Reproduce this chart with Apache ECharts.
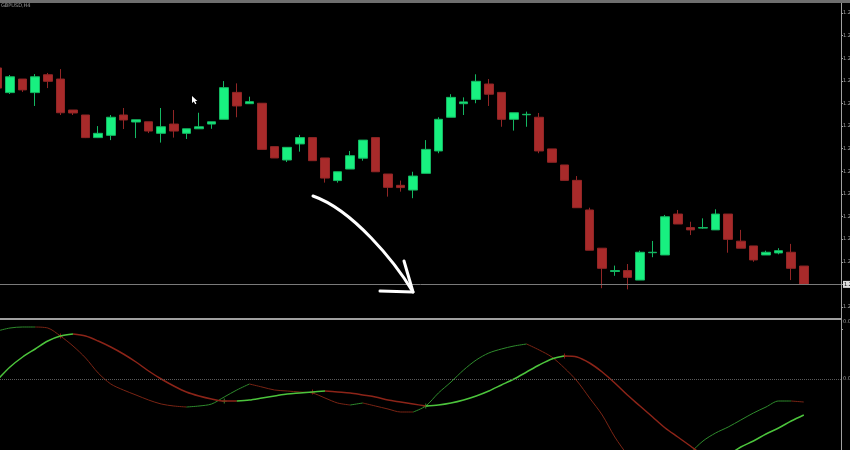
<!DOCTYPE html>
<html>
<head>
<meta charset="utf-8">
<script src="https://cdn.jsdelivr.net/npm/echarts@6/dist/echarts.min.js"></script>
<style>
  html, body { margin: 0; padding: 0; background: #000; }
  #chart { width: 850px; height: 450px; }
</style>
</head>
<body>
<div id="chart"></div>
<script>
// candles, oldest first
const opens = [1.23057,1.22948,1.23008,1.22948,1.23027,1.23008,1.22871,1.22849,1.22749,1.22759,
  1.22849,1.22818,1.22819,1.22768,1.22809,1.22768,1.22788,1.22809,1.22830,1.22949,
  1.22899,1.22901,1.22709,1.22650,1.22721,1.22749,1.22659,1.22559,1.22610,1.22658,
  1.22749,1.22588,1.22538,1.22517,1.22591,1.22690,1.22839,1.22899,1.22918,1.22986,
  1.22949,1.22830,1.22850,1.22839,1.22699,1.22628,1.22560,1.22429,1.22260,1.22157,
  1.22161,1.22119,1.22240,1.22230,1.22411,1.22351,1.22349,1.22341,1.22411,1.22291,
  1.22270,1.22230,1.22239,1.22242,1.22181];
const closes = [1.22968,1.23018,1.22960,1.23018,1.22998,1.22859,1.22858,1.22749,1.22768,1.22839,
  1.22827,1.22828,1.22778,1.22797,1.22778,1.22788,1.22797,1.22819,1.22970,1.22889,
  1.22908,1.22697,1.22659,1.22706,1.22749,1.22647,1.22570,1.22598,1.22669,1.22738,
  1.22598,1.22529,1.22528,1.22579,1.22697,1.22830,1.22927,1.22907,1.22998,1.22941,
  1.22830,1.22859,1.22852,1.22690,1.22640,1.22560,1.22439,1.22251,1.22171,1.22161,
  1.22131,1.22242,1.22242,1.22399,1.22367,1.22341,1.22351,1.22411,1.22299,1.22260,
  1.22208,1.22242,1.22249,1.22171,1.22100];
const lows = [1.22964,1.22942,1.22951,1.22889,1.22968,1.22849,1.22849,1.22747,1.22747,1.22738,
  1.22787,1.22747,1.22769,1.22727,1.22749,1.22743,1.22788,1.22788,1.22830,1.22839,
  1.22899,1.22697,1.22659,1.22641,1.22687,1.22647,1.22550,1.22550,1.22610,1.22647,
  1.22598,1.22488,1.22510,1.22481,1.22591,1.22680,1.22839,1.22849,1.22901,1.22889,
  1.22797,1.22780,1.22797,1.22680,1.22640,1.22560,1.22439,1.22251,1.22083,1.22138,
  1.22078,1.22119,1.22220,1.22230,1.22367,1.22318,1.22346,1.22341,1.22240,1.22260,
  1.22200,1.22230,1.22233,1.22119,1.22100];
const highs = [1.23062,1.23026,1.23008,1.23030,1.23035,1.23052,1.22871,1.22849,1.22800,1.22849,
  1.22880,1.22828,1.22819,1.22880,1.22871,1.22788,1.22859,1.22819,1.22999,1.22989,
  1.22930,1.22901,1.22709,1.22706,1.22761,1.22749,1.22659,1.22598,1.22690,1.22738,
  1.22749,1.22588,1.22559,1.22598,1.22738,1.22839,1.22941,1.22927,1.23029,1.23008,
  1.22949,1.22859,1.22864,1.22858,1.22699,1.22628,1.22579,1.22439,1.22260,1.22183,
  1.22190,1.22249,1.22292,1.22407,1.22429,1.22377,1.22392,1.22432,1.22411,1.22341,
  1.22270,1.22249,1.22260,1.22279,1.22181];

// oscillator pane
const fastLine = [0.0048,0.0051,0.0052,0.0052,0.0051,0.0043,0.0033,0.0021,0.0006,-0.0005,
  -0.0011,-0.0016,-0.0021,-0.0025,-0.0027,-0.0028,-0.0027,-0.0025,-0.0018,-0.0011,
  -0.0005,-0.0008,-0.0011,-0.0012,-0.0013,-0.0014,-0.0019,-0.0024,-0.0026,-0.0024,
  -0.0027,-0.0030,-0.0033,-0.0033,-0.0027,-0.0014,-0.0003,0.0009,0.0019,0.0026,
  0.0030,0.0033,0.0035,0.0029,0.0022,0.0011,-0.0002,-0.0019,-0.0036,-0.0058,
  -0.0076,-0.0093,-0.0103,-0.0100,-0.0088,-0.0074,-0.0062,-0.0054,-0.0048,-0.0041,
  -0.0034,-0.0028,-0.0022,-0.0022,-0.0023];
const slowLine = [-0.0001,0.0012,0.0022,0.0030,0.0038,0.0043,0.0045,0.0043,0.0038,0.0032,
  0.0025,0.0017,0.0008,0.0000,-0.0007,-0.0013,-0.0017,-0.0020,-0.0022,-0.0022,
  -0.0021,-0.0019,-0.0017,-0.0015,-0.0014,-0.0013,-0.0012,-0.0013,-0.0014,-0.0016,
  -0.0018,-0.0021,-0.0023,-0.0025,-0.0027,-0.0026,-0.0024,-0.0021,-0.0017,-0.0012,
  -0.0006,0.0000,0.0007,0.0014,0.0020,0.0023,0.0022,0.0016,0.0007,-0.0004,
  -0.0016,-0.0027,-0.0038,-0.0049,-0.0058,-0.0067,-0.0076,-0.0082,-0.0076,-0.0068,
  -0.0062,-0.0055,-0.0049,-0.0042,-0.0036];
const crossUp = [18, 34];
const crossDown = [5, 25, 45];

const lastClose = closes[closes.length - 1];
const xMin = 0.2063;
const xMax = 66.952;

const candleData = opens.map(function (o, i) {
  return [i, o, closes[i], lows[i], highs[i]];
});

// split a line into runs that go up or down, one series per run
function runSeries(values, upColor, downColor, width) {
  const out = [];
  let start = 0;
  let dir = values[1] >= values[0];
  for (let i = 1; i < values.length; i++) {
    let d = values[i] > values[i - 1] ? true : (values[i] < values[i - 1] ? false : dir);
    if (d !== dir) {
      out.push({ from: start, to: i - 1, up: dir });
      start = i - 1;
      dir = d;
    }
  }
  out.push({ from: start, to: values.length - 1, up: dir });
  return out.map(function (r) {
    const pts = [];
    for (let i = r.from; i <= r.to; i++) pts.push([i, values[i]]);
    return {
      type: 'line',
      xAxisIndex: 1,
      yAxisIndex: 1,
      data: pts,
      symbol: 'none',
      smooth: 0.3,
      silent: true,
      lineStyle: { color: r.up ? upColor : downColor, width: width }
    };
  });
}

const crossSymbol = 'path://M-0.15,-1H0.15V-0.15H1V0.15H0.15V1H-0.15V0.15H-1V-0.15H-0.15Z';

const chart = echarts.init(document.getElementById('chart'));

const series = [
  {
    type: 'candlestick',
    xAxisIndex: 0,
    yAxisIndex: 0,
    data: candleData,
    encode: { x: 0, y: [1, 2, 3, 4] },
    barWidth: 9,
    silent: true,
    itemStyle: {
      color: '#18f080',
      color0: '#a82a2a',
      borderColor: '#14b862',
      borderColor0: '#922626',
      borderWidth: 1
    },
    markLine: {
      silent: true,
      symbol: 'none',
      precision: 5,
      lineStyle: { color: '#7a7a7a', width: 1, type: 'solid' },
      label: {
        show: true,
        position: 'end',
        distance: 2,
        formatter: function (p) { return Number(p.value).toFixed(4); },
        color: '#000',
        backgroundColor: '#dcdcdc',
        fontSize: 5,
        padding: [1, 1],
        fontFamily: 'DejaVu Sans'
      },
      data: [{ yAxis: lastClose }]
    }
  },
  {
    type: 'line',
    xAxisIndex: 1,
    yAxisIndex: 1,
    data: [],
    markLine: {
      silent: true,
      symbol: 'none',
      label: { show: false },
      lineStyle: { color: '#5a5a5a', width: 1, type: 'dotted' },
      data: [{ yAxis: 0 }]
    }
  }
].concat(
  runSeries(fastLine, '#2e8a2c', '#7a2414', 1),
  runSeries(slowLine, '#4cc43c', '#8c2418', 1.5),
  [
    {
      type: 'scatter',
      xAxisIndex: 1,
      yAxisIndex: 1,
      symbol: crossSymbol,
      symbolSize: 5,
      silent: true,
      itemStyle: { color: '#5ddc4a' },
      data: crossUp.map(function (i) { return [i, slowLine[i]]; })
    },
    {
      type: 'scatter',
      xAxisIndex: 1,
      yAxisIndex: 1,
      symbol: crossSymbol,
      symbolSize: 5,
      silent: true,
      itemStyle: { color: '#e02020' },
      data: crossDown.map(function (i) { return [i, slowLine[i]]; })
    }
  ]
);

const axisText = { color: '#a0a0a0', fontSize: 5, fontFamily: 'DejaVu Sans', margin: 2 };

const option = {
  backgroundColor: '#000',
  animation: false,
  grid: [
    { left: 0, right: 9, top: 3, bottom: 120.4, outerBoundsMode: 'none', containLabel: false },
    { left: 0, right: 9, top: 319, bottom: -43, outerBoundsMode: 'none', containLabel: false }
  ],
  xAxis: [
    { type: 'value', gridIndex: 0, min: xMin, max: xMax, show: false },
    { type: 'value', gridIndex: 1, min: xMin, max: xMax, show: false }
  ],
  yAxis: [
    {
      type: 'value',
      gridIndex: 0,
      position: 'right',
      min: 1.219,
      max: 1.233443,
      interval: 0.001,
      splitLine: { show: false },
      axisLine: { show: true, lineStyle: { color: '#a0a0a0' } },
      axisTick: { show: true, length: 2, lineStyle: { color: '#a0a0a0' } },
      axisLabel: Object.assign({}, axisText, {
        showMaxLabel: false,
        formatter: function (v) {
          if (v < 1.21995 || Math.abs(v - lastClose) < 1e-6) return '';
          return v.toFixed(4);
        }
      })
    },
    {
      type: 'value',
      gridIndex: 1,
      position: 'right',
      min: -0.0114,
      max: 0.0060,
      interval: 0.0057,
      splitLine: { show: false },
      axisLine: { show: true, lineStyle: { color: '#a0a0a0' } },
      axisTick: { show: false },
      axisLabel: Object.assign({}, axisText, {
        showMaxLabel: false,
        showMinLabel: false,
        formatter: function (v) {
          if (Math.abs(v) < 1e-9) return '0.0000';
          if (Math.abs(v - 0.0057) < 1e-9) return '0.0057';
          return '';
        }
      })
    }
  ],
  graphic: [
    { type: 'rect', shape: { x: 0, y: 0, width: 850, height: 3 }, style: { fill: '#6e6e6e' }, z: 100 },
    { type: 'text', left: 1, top: 3, style: { text: 'GBPUSD,H4', fill: '#9a9a9a', fontSize: 5, fontFamily: 'DejaVu Sans' }, z: 100 },
    { type: 'line', shape: { x1: 0, y1: 319, x2: 841, y2: 319 }, style: { stroke: '#a0a0a0', lineWidth: 2 }, z: 100 },
    {
      type: 'bezierCurve',
      shape: { x1: 313, y1: 196, cpx1: 353, cpy1: 210, cpx2: 395, cpy2: 262, x2: 413, y2: 292 },
      style: { stroke: '#ffffff', lineWidth: 3, fill: null, lineCap: 'round' },
      z: 100
    },
    {
      type: 'polyline',
      shape: { points: [[404, 261], [413, 292], [380, 291]] },
      style: { stroke: '#ffffff', lineWidth: 3, fill: null, lineCap: 'round', lineJoin: 'round' },
      z: 100
    },
    {
      type: 'polygon',
      shape: { points: [[192, 96], [192, 103], [193.8, 101.6], [195.2, 104.2], [196.4, 103.6], [195.1, 101], [197.4, 101]] },
      style: { fill: '#ffffff' },
      z: 100
    }
  ],
  series: series
};

chart.setOption(option);
</script>
</body>
</html>
